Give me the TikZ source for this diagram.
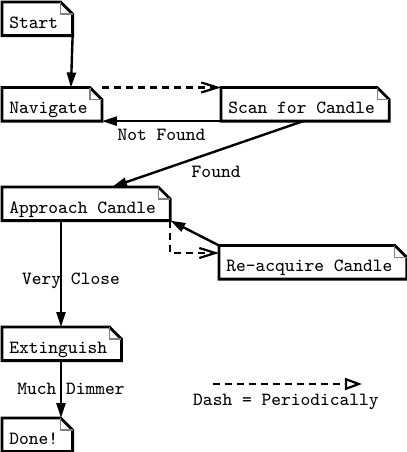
\documentclass[tikz,border=0pt]{standalone}
\usepackage{fontspec}
\usetikzlibrary{arrows.meta}
\newcommand\notefont{\ttfamily\fontsize{9.3}{11}\selectfont}
\begin{document}
\begin{tikzpicture}[x=0.5pt,y=-0.5pt]

\tikzset{
    note/.style={font=\notefont, anchor=north west, inner xsep=3.5pt, inner ysep=0pt,
        text height=12.8pt, text depth=3.6pt, execute at end node={\hspace*{3.5pt}},
        append after command={\pgfextra{
            \draw[line width=1.4pt] (\tikzlastnode.north west) -- ([xshift=-6pt]\tikzlastnode.north east)
                -- ([yshift=-6pt]\tikzlastnode.north east) -- (\tikzlastnode.south east)
                -- (\tikzlastnode.south west) -- cycle;
            \draw[gray, line width=0.6pt] ([xshift=-6pt]\tikzlastnode.north east) |- ([yshift=-6pt]\tikzlastnode.north east);
        }}},
    flow/.style={line width=1.2pt, -{Triangle[length=7.5pt,width=4.5pt]}},
    periodic/.style={line width=1.1pt, dash pattern=on 3.5pt off 2.5pt, -{Straight Barb[length=8pt,width=5pt]}},
    lbl/.style={font=\notefont}}

\useasboundingbox (0,0) rectangle (407,452);

\node[note] (start) at (2,2) {Start};
\node[note] (navigate) at (2,87.5) {Navigate};
\node[note] (scan) at (221,87.5) {Scan for Candle};
\node[note] (approach) at (2,187) {Approach Candle};
\node[note] (reacquire) at (219,245.5) {Re-acquire Candle};
\node[note] (extinguish) at (2,327) {Extinguish};
\node[note] (done) at (2,418) {Done!};

\draw[flow] (start.south east) -- ([xshift=-15.5pt]navigate.north east);
\draw[periodic] (navigate.north east) -- (scan.north west);
\draw[flow] (scan.south west) -- node[lbl, below] {Not Found} (navigate.south east);
\draw[flow] ([xshift=-43pt]scan.south east) -- node[lbl, xshift=4.25pt, yshift=-9pt] {Found} ([xshift=55pt]approach.north west);
\draw[flow] ([xshift=29.5pt]approach.south west) -- node[lbl, xshift=5pt, yshift=-3.5pt] {Very Close} ([xshift=29.5pt]extinguish.north west);
\draw[flow] ([xshift=29.5pt]extinguish.south west) -- node[lbl, xshift=5pt] {Much Dimmer} ([xshift=29.5pt]done.north west);
\draw[flow] (reacquire.north west) -- (approach.south east);
\draw[periodic] (approach.south east) |- ([yshift=-3.75pt]reacquire.north west);

\coordinate (dasha) at (213,384);
\coordinate (dashb) at (362,384);
\draw[periodic, -{Triangle[open,length=8.5pt,width=6pt]}] (dasha) -- (dashb);
\node[lbl] (dashkey) at (286,402) {Dash = Periodically};

\end{tikzpicture}
\end{document}
